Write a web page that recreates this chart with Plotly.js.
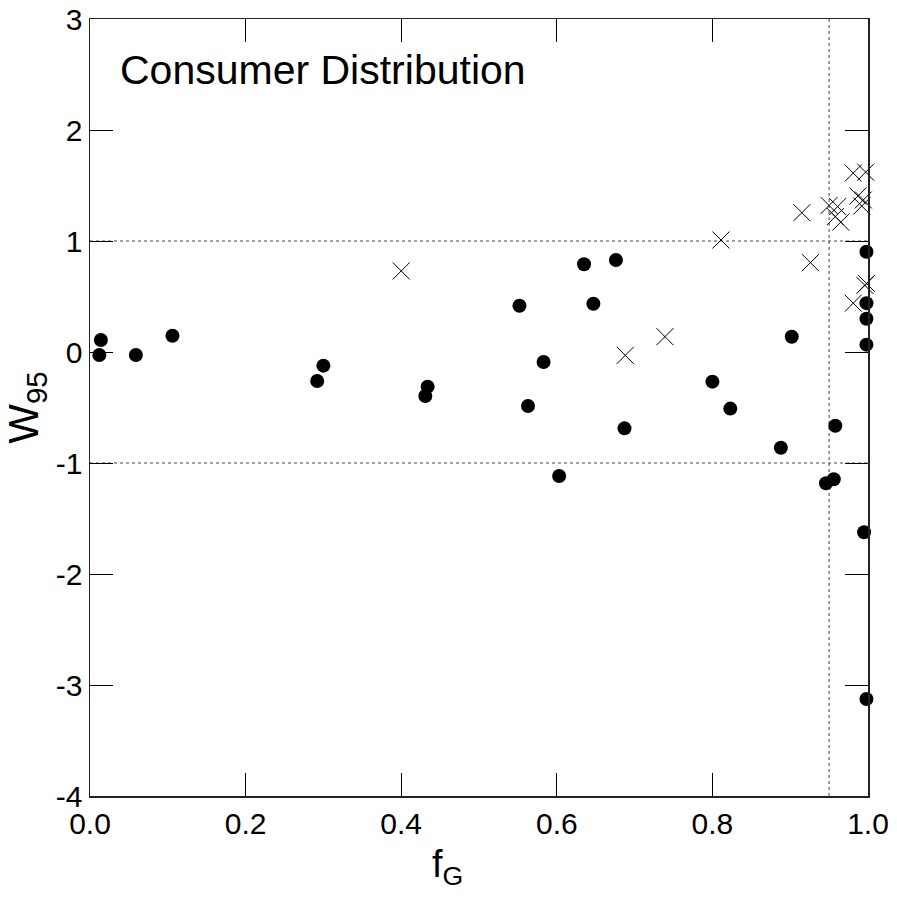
<!DOCTYPE html>
<html>
<head>
<meta charset="utf-8">
<script src="https://cdn.plot.ly/plotly-3.0.1.min.js"></script>
<style>html,body{margin:0;padding:0;background:#fff;}#chart{width:897px;height:901px;}</style>
</head>
<body>
<div id="chart"></div>
<script>
// Filled circles
const circleX = [0.014, 0.012, 0.059, 0.106, 0.300, 0.292, 0.434, 0.431, 0.552, 0.563, 0.583, 0.603, 0.635, 0.647, 0.676, 0.687, 0.800, 0.823, 0.888, 0.902, 0.946, 0.956, 0.958, 0.998, 0.998, 0.998, 0.998, 0.995, 0.998];
const circleY = [0.108, -0.027, -0.027, 0.147, -0.123, -0.261, -0.312, -0.396, 0.417, -0.486, -0.09, -1.117, 0.79, 0.435, 0.829, -0.688, -0.267, -0.51, -0.862, 0.138, -1.183, -1.147, -0.664, 0.903, 0.44, 0.30, 0.066, -1.624, -3.126];
// Crosses
const crossX = [0.400, 0.688, 0.739, 0.811, 0.915, 0.926, 0.950, 0.961, 0.958, 0.965, 0.981, 0.997, 0.987, 0.994, 0.992, 0.998, 0.996, 0.981];
const crossY = [0.73, -0.03, 0.138, 1.009, 1.255, 0.805, 1.32, 1.31, 1.22, 1.17, 1.612, 1.62, 1.405, 1.37, 1.315, 0.618, 0.60, 0.44];
// Reference lines
const refH = [1, -1];
const refV = [0.95];
const xTicks = [0, 0.2, 0.4, 0.6, 0.8, 1.0];
const xTickText = ['0.0', '0.2', '0.4', '0.6', '0.8', '1.0'];
const yTicks = [-4, -3, -2, -1, 0, 1, 2, 3];
const yTickText = ['-4', '-3', '-2', '-1', '0', '1', '2', '3'];

const font = 'Liberation Sans, Arial, Helvetica, sans-serif';

const traces = [
  {x: crossX, y: crossY, type: 'scatter', mode: 'markers', cliponaxis: false,
   marker: {symbol: 'x-thin-open', size: 17, color: '#000', line: {width: 1, color: '#000'}}, hoverinfo: 'x+y'},
  {x: circleX, y: circleY, type: 'scatter', mode: 'markers', cliponaxis: false,
   marker: {symbol: 'circle', size: 14, color: '#000', line: {width: 0}}, hoverinfo: 'x+y'}
];

const shapes = [];
refH.forEach(v => shapes.push({type: 'line', xref: 'x', yref: 'y', x0: 0, x1: 1, y0: v, y1: v, line: {color: '#444', width: 1, dash: 'dot'}, layer: 'below'}));
refV.forEach(v => shapes.push({type: 'line', xref: 'x', yref: 'y', x0: v, x1: v, y0: -4, y1: 3, line: {color: '#444', width: 1, dash: 'dot'}, layer: 'below'}));

const layout = {
  width: 897, height: 901,
  margin: {l: 90, r: 29, t: 19, b: 105},
  paper_bgcolor: '#fff', plot_bgcolor: '#fff',
  showlegend: false,
  font: {family: font, color: '#000', size: 30},
  title: {text: 'Consumer Distribution', x: 120/897, xanchor: 'left', xref: 'container',
          y: 1 - 70/901, yanchor: 'middle', yref: 'container',
          font: {family: font, size: 41, color: '#000'}},
  xaxis: {range: [0, 1], tickmode: 'array', tickvals: xTicks, ticktext: xTickText,
          ticks: 'inside', ticklen: 23, tickwidth: 1, tickcolor: '#000',
          showline: true, linecolor: '#222', linewidth: 1.5, mirror: 'ticks',
          showgrid: false, zeroline: false,
          tickfont: {family: font, size: 30, color: '#000'}},
  yaxis: {range: [-4, 3], tickmode: 'array', tickvals: yTicks, ticktext: yTickText,
          ticks: 'inside', ticklen: 23, tickwidth: 1, tickcolor: '#000',
          showline: true, linecolor: '#222', linewidth: 1.5, mirror: 'ticks',
          showgrid: false, zeroline: false,
          tickfont: {family: font, size: 30, color: '#000'},
          title: {text: 'W<sub>95</sub>', font: {family: font, size: 42, color: '#000'}, standoff: 4}},
  annotations: [
    {text: 'f<sub>G</sub>', xref: 'paper', yref: 'paper', x: (447 - 90) / 778, y: -0.058,
     xanchor: 'center', yanchor: 'top', showarrow: false,
     font: {family: font, size: 38, color: '#000'}}
  ],
  shapes: shapes
};

Plotly.newPlot('chart', traces, layout, {displayModeBar: false, staticPlot: true});
</script>
</body>
</html>
